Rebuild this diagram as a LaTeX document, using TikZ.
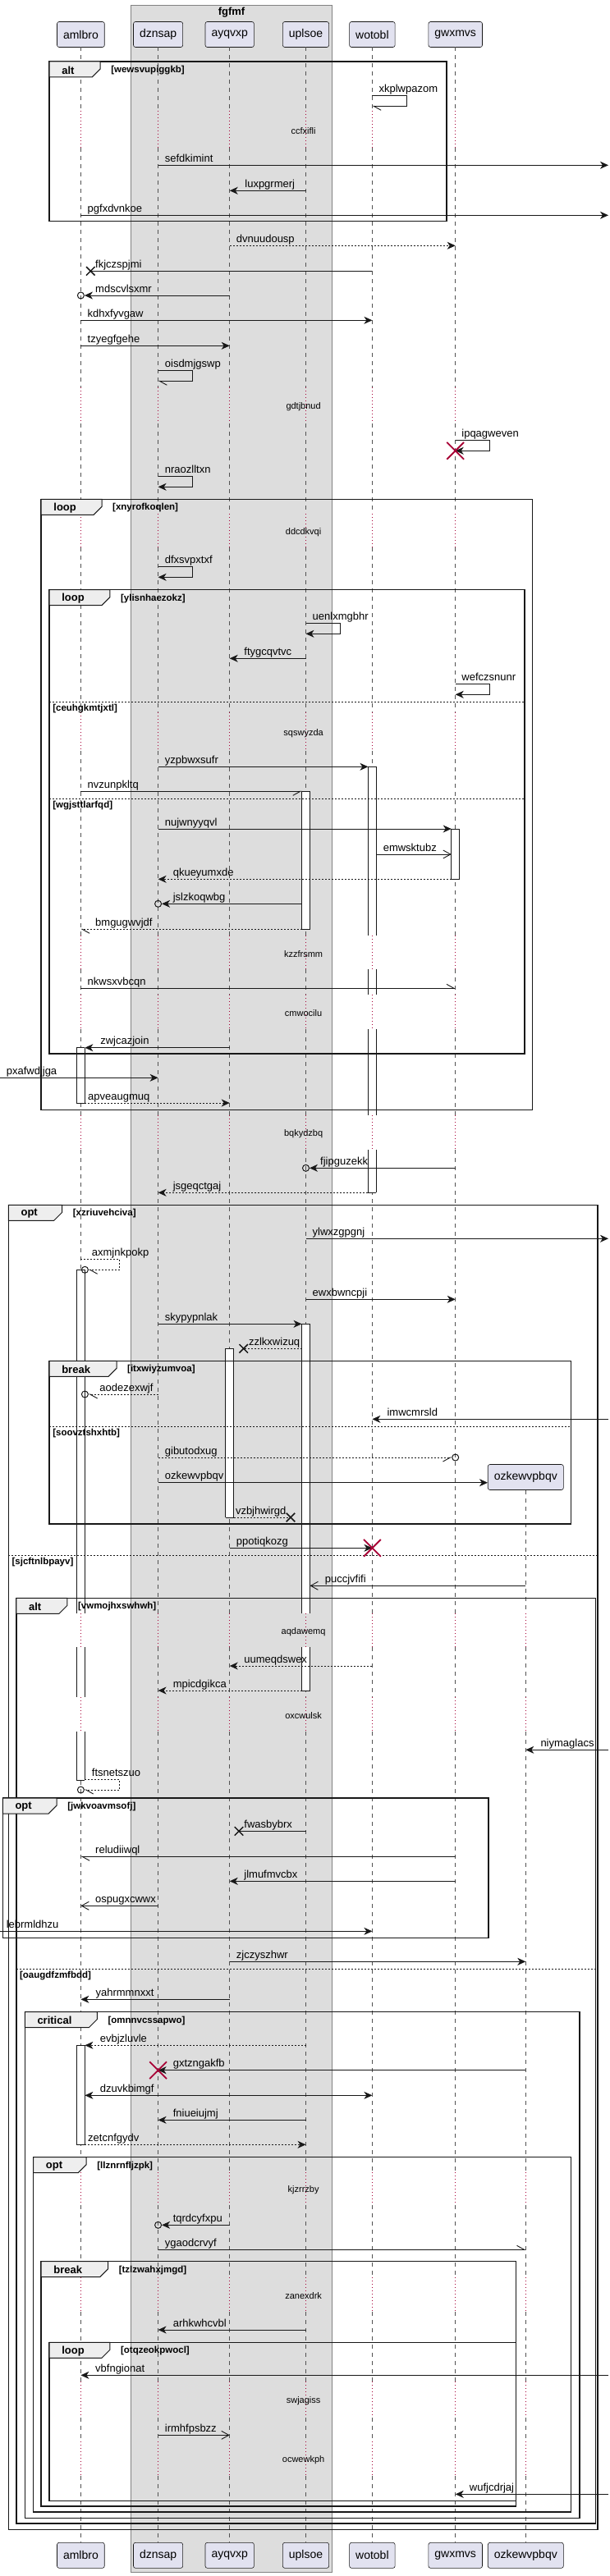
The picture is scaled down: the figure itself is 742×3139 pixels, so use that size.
\documentclass[tikz,border=0pt]{standalone}
\usepackage{fontspec}
\setmainfont{Liberation Sans}
\usepackage{tikz}
\usetikzlibrary{arrows.meta,shapes.misc}
\definecolor{umlline}{RGB}{24,24,24}
\definecolor{umlpart}{RGB}{226,226,240}
\definecolor{umlbox}{RGB}{221,221,221}
\definecolor{boxgray}{RGB}{130,130,130}
\definecolor{umlred}{RGB}{168,0,54}
\definecolor{umltab}{RGB}{238,238,238}
\tikzset{
  part/.style={rectangle, rounded corners=2.5pt, draw=umlline, line width=0.6pt,
               fill=umlpart, font=\fontsize{14}{16}\selectfont,
               minimum height=31pt, inner xsep=7.5pt},
  lifeline/.style={draw=umlline!75, line width=0.6pt, dash pattern=on 5pt off 5pt},
  delayline/.style={draw=umlred, line width=0.8pt, dash pattern=on 1pt off 3pt},
  msg/.style={draw=umlline, line width=0.9pt},
  ret/.style={msg, dash pattern=on 2pt off 2pt},
  tipfill/.style={-{Stealth[length=10pt,width=9pt,inset=3pt]}},
  tipopen/.style={-{Straight Barb[length=9pt,width=10pt]}},
  barbleft/.style={-{Straight Barb[length=9pt,width=10pt,left]}},
  barbright/.style={-{Straight Barb[length=9pt,width=10pt,right]}},
  msglbl/.style={anchor=base west, inner sep=0pt, font=\fontsize{13}{15}\selectfont},
  dlylbl/.style={inner sep=0pt, font=\fontsize{11}{13}\selectfont},
  grpframe/.style={draw=umlline, line width=1.5pt},
  grptab/.style={draw=umlline, line width=1pt, fill=umltab},
  grplbl/.style={anchor=west, inner sep=0pt, font=\fontsize{13}{15}\selectfont\bfseries},
  cndlbl/.style={anchor=west, inner sep=0pt, font=\fontsize{11.5}{13}\selectfont\bfseries},
  elseline/.style={draw=umlline, line width=0.9pt, dash pattern=on 2pt off 2pt},
  actside/.style={draw=umlline, line width=0.9pt},
  xmark/.style={cross out, draw=umlline, line width=1.5pt, minimum size=9pt, inner sep=0pt},
  killmark/.style={cross out, draw=umlred, line width=1.8pt, minimum size=19pt, inner sep=0pt},
  endcirc/.style={circle, draw=umlline, line width=1pt, minimum size=8pt, inner sep=0pt},
}
\begin{document}
\begin{tikzpicture}[x=1pt, y=-1pt]
  \fill[white] (0,0) rectangle (742,3139);
  \useasboundingbox (0,0) rectangle (742,3139);
  \coordinate (leftedge) at (0,0);
  \coordinate (rightedge) at (741,0);

  % box fgfmf
  \draw[draw=boxgray, fill=umlbox, line width=0.8pt] (159.5,6) rectangle (404.6,3134);
  \node[font=\fontsize{13}{15}\selectfont\bfseries, inner sep=0pt] (fgfmf) at (282,15) {fgfmf};

  % participants (top)
  \node[part] (amlbro) at (98.4,42) {amlbro};
  \node[part] (dznsap) at (192.6,42) {dznsap};
  \node[part] (ayqvxp) at (279.7,42) {ayqvxp};
  \node[part] (uplsoe) at (372.5,42) {uplsoe};
  \node[part] (wotobl) at (453.4,42) {wotobl};
  \node[part] (gwxmvs) at (554.7,42) {gwxmvs};
  \node[part] (ozkewvpbqv) at (640.3,1800) {ozkewvpbqv};

  % lifelines
  \foreach \ya/\yb in {57.3/135, 180/472, 516/626, 667/868, 915/1140, 1181/1212,
      1254/1359, 1401/1966, 2007/2068, 2110/2647, 2687/2775, 2817/2902,
      2946/2975, 3017/3098.3}
    \foreach \lx in {amlbro,dznsap,ayqvxp,uplsoe,wotobl,gwxmvs}
      \draw[lifeline] (\lx |- 0,\ya) -- (\lx |- 0,\yb);
  \foreach \ya/\yb in {1815.7/1966, 2007/2068, 2110/2647, 2687/2775, 2817/2902,
      2946/2975, 3017/3098.3}
    \draw[lifeline] (ozkewvpbqv |- 0,\ya) -- (ozkewvpbqv |- 0,\yb);

  % delays
  \foreach \n/\ya/\yb/\txt in {1/135/180/ccfxifli, 2/472/516/gdtjbnud,
      3/626/667/ddcdkvqi, 4/868/915/sqswyzda, 5/1140/1181/kzzfrsmm,
      6/1212/1254/cmwocilu, 7/1359/1401/bqkydzbq, 8/1966/2007/aqdawemq,
      9/2068/2110/oxcwulsk, 10/2647/2687/kjzrrzby, 11/2775/2817/zanexdrk,
      12/2902/2946/swjagiss, 13/2975/3017/ocwewkph} {
    \foreach \lx in {amlbro,dznsap,ayqvxp,uplsoe,wotobl,gwxmvs}
      \draw[delayline] (\lx |- 0,\ya) -- (\lx |- 0,\yb);
    \node[dlylbl] (dly\n) at (369.6,\ya/2+\yb/2+2) {\txt};
  }
  \foreach \ya/\yb in {1966/2007, 2068/2110, 2647/2687, 2775/2817, 2902/2946, 2975/3017}
    \draw[delayline] (ozkewvpbqv |- 0,\ya) -- (ozkewvpbqv |- 0,\yb);

  % activations
  \foreach \lx/\ya/\yb in {wotobl/934.3/1140, wotobl/1181/1212, wotobl/1254/1359,
      wotobl/1401/1453.3, uplsoe/964.3/1132.3, gwxmvs/1010/1071.3,
      amlbro/1276.7/1344, amlbro/1547.3/1966, amlbro/2007/2068, amlbro/2110/2169.3,
      uplsoe/1613.3/1966, uplsoe/2007/2060, ayqvxp/1643.3/1849,
      amlbro/2492.3/2613.3} {
    \fill[white] ([xshift=-5pt]\lx |- 0,\ya) rectangle ([xshift=5pt]\lx |- 0,\yb);
    \draw[actside] ([xshift=-5pt]\lx |- 0,\ya) -- ([xshift=-5pt]\lx |- 0,\yb)
                   ([xshift=5pt]\lx |- 0,\ya) -- ([xshift=5pt]\lx |- 0,\yb);
  }
  \foreach \lx/\yy in {wotobl/934.3, wotobl/1453.3, uplsoe/964.3, uplsoe/1132.3,
      gwxmvs/1010, gwxmvs/1071.3, amlbro/1276.7, amlbro/1344, amlbro/1547.3,
      amlbro/2169.3, uplsoe/1613.3, uplsoe/2060, ayqvxp/1643.3, ayqvxp/1849,
      amlbro/2492.3, amlbro/2613.3}
    \draw[actside] ([xshift=-5pt]\lx |- 0,\yy) -- ([xshift=5pt]\lx |- 0,\yy);

  % groups
  \foreach \n/\xa/\ya/\xb/\yb/\tr/\kw/\cd in {
      1/60.1/75/544.2/269.3/122.1/alt/wewsvupiggkb,
      2/50.2/608.3/648.4/1352.3/124/loop/xnyrofkoqlen,
      3/60.1/718.7/638.9/1284/133.9/loop/ylisnhaezokz,
      4/10.4/1468.3/728/3082.3/75.7/opt/xzriuvehciva,
      5/60.1/1658.3/695.7/1857/142/break/itxwiyzumvoa,
      6/19.9/1947.3/725.5/3075/81.9/alt/vwmojhxswhwh,
      7/3.3/2191/594.9/2361.7/69.1/opt/jwkvoavmsofj,
      8/30.3/2451.7/706.1/3068.3/118.3/critical/omnnvcssapwo,
      9/40.7/2628.7/695.7/3061/105.1/opt/llznrnfljzpk,
      10/50.2/2755.7/628.5/3054/131.6/break/tzlzwahxjmgd,
      11/60.1/2854.3/628.5/3047.3/133.9/loop/otqzeokpwocl} {
    \draw[grpframe] (\xa,\ya) rectangle (\xb,\yb);
    \draw[grptab] (\xa,\ya) -- (\tr,\ya) -- (\tr,\ya+9) -- (\tr-10,\ya+19) -- (\xa,\ya+19) -- cycle;
    \node[grplbl] (kw\n) at (\xa+15,\ya+10.5) {\kw};
    \node[cndlbl] (cd\n) at (\tr+13,\ya+10.5) {[\cd]};
  }
  \foreach \n/\xa/\xb/\yy/\cd in {1/60.1/638.9/855.3/ceuhgkmtjxtl,
      2/60.1/638.9/973/wgjsttlarfqd, 3/60.1/695.7/1738.3/soovztshxhtb,
      4/10.4/728/1895.3/sjcftnlbpayv, 5/19.9/725.5/2399.3/oaugdfzmfbdd} {
    \draw[elseline] (\xa,\yy) -- (\xb,\yy);
    \node[cndlbl] (el\n) at (\xa+4,\yy+8.5) {[\cd]};
  }

  % messages
  \draw[msg, barbleft] (wotobl |- 0,116.7) -- ++(42,0) |- (wotobl |- 0,129.3);
  \node[msglbl] (t-xkplwpazom) at (461.4,112.7) {xkplwpazom};
  \draw[msg, tipfill] (dznsap |- 0,201.3) -- (rightedge |- 0,201.3);
  \node[msglbl] (t-sefdkimint) at (200.7,197.3) {sefdkimint};
  \draw[msg, tipfill] (uplsoe |- 0,232.3) -- (ayqvxp |- 0,232.3);
  \node[msglbl] (t-luxpgrmerj) at (298.2,228.3) {luxpgrmerj};
  \draw[msg, tipfill] (amlbro |- 0,262.3) -- (rightedge |- 0,262.3);
  \node[msglbl] (t-pgfxdvnkoe) at (106.5,258.3) {pgfxdvnkoe};
  \draw[ret, tipfill] (ayqvxp |- 0,299.3) -- (gwxmvs |- 0,299.3);
  \node[msglbl] (t-dvnuudousp) at (287.7,295.3) {dvnuudousp};
  \node[xmark] (x-fkjczspjmi) at (110.3,330.3) {};
  \draw[msg] (wotobl |- 0,330.3) -- (x-fkjczspjmi.center);
  \node[msglbl] (t-fkjczspjmi) at (116,326.3) {fkjczspjmi};
  \node[endcirc] (c-mdscvlsxmr) at (amlbro |- 0,360) {};
  \draw[msg, tipfill] (ayqvxp |- 0,360) -- (c-mdscvlsxmr.east);
  \node[msglbl] (t-mdscvlsxmr) at (116,356) {mdscvlsxmr};
  \draw[msg, tipfill] (amlbro |- 0,390.3) -- (wotobl |- 0,390.3);
  \node[msglbl] (t-kdhxfyvgaw) at (106.5,386.3) {kdhxfyvgaw};
  \draw[msg, tipfill] (amlbro |- 0,421.3) -- (ayqvxp |- 0,421.3);
  \node[msglbl] (t-tzyegfgehe) at (106.5,417.3) {tzyegfgehe};
  \draw[msg, barbleft] (dznsap |- 0,451.3) -- ++(42,0) |- (dznsap |- 0,464.3);
  \node[msglbl] (t-oisdmjgswp) at (200.7,447.3) {oisdmjgswp};
  \draw[msg, tipfill] (gwxmvs |- 0,536.3) -- ++(42,0) |- (gwxmvs |- 0,549.3);
  \node[killmark] (k-gwxmvs) at (gwxmvs |- 0,549.3) {};
  \node[msglbl] (t-ipqagweven) at (562.2,532.3) {ipqagweven};
  \draw[msg, tipfill] (dznsap |- 0,580.3) -- ++(42,0) |- (dznsap |- 0,593.3);
  \node[msglbl] (t-nraozlltxn) at (200.7,576.3) {nraozlltxn};
  \draw[msg, tipfill] (dznsap |- 0,690.3) -- ++(42,0) |- (dznsap |- 0,703.3);
  \node[msglbl] (t-dfxsvpxtxf) at (200.7,686.3) {dfxsvpxtxf};
  \draw[msg, tipfill] (uplsoe |- 0,759.3) -- ++(42,0) |- (uplsoe |- 0,772.3);
  \node[msglbl] (t-uenlxmgbhr) at (380.5,755.3) {uenlxmgbhr};
  \draw[msg, tipfill] (uplsoe |- 0,802.3) -- (ayqvxp |- 0,802.3);
  \node[msglbl] (t-ftygcqvtvc) at (297.2,798.3) {ftygcqvtvc};
  \draw[msg, tipfill] (gwxmvs |- 0,833.3) -- ++(42,0) |- (gwxmvs |- 0,846.3);
  \node[msglbl] (t-wefczsnunr) at (562.2,829.3) {wefczsnunr};
  \draw[msg, tipfill] (dznsap |- 0,934.3) -- ([xshift=-5pt]wotobl |- 0,934.3);
  \node[msglbl] (t-yzpbwxsufr) at (200.7,930.3) {yzpbwxsufr};
  \draw[msg, barbright] (amlbro |- 0,964.3) -- ([xshift=-5pt]uplsoe |- 0,964.3);
  \node[msglbl] (t-nvzunpkltq) at (106.5,960.3) {nvzunpkltq};
  \draw[msg, tipfill] (dznsap |- 0,1010) -- ([xshift=-5pt]gwxmvs |- 0,1010);
  \node[msglbl] (t-nujwnyyqvl) at (200.7,1006) {nujwnyyqvl};
  \draw[msg, tipopen] ([xshift=5pt]wotobl |- 0,1041) -- ([xshift=-5pt]gwxmvs |- 0,1041);
  \node[msglbl] (t-emwsktubz) at (466.6,1037) {emwsktubz};
  \draw[ret, tipfill] ([xshift=-5pt]gwxmvs |- 0,1071.3) -- (dznsap |- 0,1071.3);
  \node[msglbl] (t-qkueyumxde) at (210.6,1067.3) {qkueyumxde};
  \node[endcirc] (c-jslzkoqwbg) at (dznsap |- 0,1101.3) {};
  \draw[msg, tipfill] ([xshift=-5pt]uplsoe |- 0,1101.3) -- (c-jslzkoqwbg.east);
  \node[msglbl] (t-jslzkoqwbg) at (210.6,1097.3) {jslzkoqwbg};
  \draw[ret, barbleft] ([xshift=-5pt]uplsoe |- 0,1132.3) -- (amlbro |- 0,1132.3);
  \node[msglbl] (t-bmgugwvjdf) at (116,1128.3) {bmgugwvjdf};
  \draw[msg, barbleft] (amlbro |- 0,1204.3) -- (gwxmvs |- 0,1204.3);
  \node[msglbl] (t-nkwsxvbcqn) at (106.5,1200.3) {nkwsxvbcqn};
  \draw[msg, tipfill] (ayqvxp |- 0,1276.7) -- ([xshift=5pt]amlbro |- 0,1276.7);
  \node[msglbl] (t-zwjcazjoin) at (122.1,1272.7) {zwjcazjoin};
  \draw[msg, tipfill] (leftedge |- 0,1313.3) -- (dznsap |- 0,1313.3);
  \node[msglbl] (t-pxafwdjjga) at (7.6,1309.3) {pxafwdjjga};
  \draw[ret, tipfill] ([xshift=5pt]amlbro |- 0,1344) -- (ayqvxp |- 0,1344);
  \node[msglbl] (t-apveaugmuq) at (107,1340) {apveaugmuq};
  \node[endcirc] (c-fjipguzekk) at (uplsoe |- 0,1423.3) {};
  \draw[msg, tipfill] (gwxmvs |- 0,1423.3) -- (c-fjipguzekk.east);
  \node[msglbl] (t-fjipguzekk) at (390,1419.3) {fjipguzekk};
  \draw[ret, tipfill] ([xshift=-5pt]wotobl |- 0,1453.3) -- (dznsap |- 0,1453.3);
  \node[msglbl] (t-jsgeqctgaj) at (210.6,1449.3) {jsgeqctgaj};
  \draw[msg, tipfill] (uplsoe |- 0,1509.3) -- (rightedge |- 0,1509.3);
  \node[msglbl] (t-ylwxzgpgnj) at (380.5,1505.3) {ylwxzgpgnj};
  \node[endcirc] (c-axmjnkpokp) at ([xshift=5pt]amlbro |- 0,1547.3) {};
  \draw[ret, barbleft] (amlbro |- 0,1534.3) -- (145.8,1534.3) |- (c-axmjnkpokp.east);
  \node[msglbl] (t-axmjnkpokp) at (111.7,1530.3) {axmjnkpokp};
  \draw[msg, tipfill] (uplsoe |- 0,1583.3) -- (gwxmvs |- 0,1583.3);
  \node[msglbl] (t-ewxbwncpji) at (380.5,1579.3) {ewxbwncpji};
  \draw[msg, tipfill] (dznsap |- 0,1613.3) -- ([xshift=-5pt]uplsoe |- 0,1613.3);
  \node[msglbl] (t-skypypnlak) at (200.7,1609.3) {skypypnlak};
  \node[xmark] (x-zzlkxwizuq) at (296.7,1643.3) {};
  \draw[ret] ([xshift=-5pt]uplsoe |- 0,1643.3) -- (x-zzlkxwizuq.center);
  \node[msglbl] (t-zzlkxwizuq) at (302.9,1639.3) {zzlkxwizuq};
  \node[endcirc] (c-aodezexwjf) at ([xshift=5pt]amlbro |- 0,1699) {};
  \draw[ret, barbleft] (dznsap |- 0,1699) -- (c-aodezexwjf.east);
  \node[msglbl] (t-aodezexwjf) at (121.2,1695) {aodezexwjf};
  \draw[msg, tipfill] (rightedge |- 0,1729.3) -- (wotobl |- 0,1729.3);
  \node[msglbl] (t-imwcmrsld) at (471.4,1725.3) {imwcmrsld};
  \node[endcirc] (c-gibutodxug) at (gwxmvs |- 0,1776) {};
  \draw[ret, barbright] (dznsap |- 0,1776) -- (c-gibutodxug.west);
  \node[msglbl] (t-gibutodxug) at (200.7,1772) {gibutodxug};
  \draw[msg, tipfill] (dznsap |- 0,1806.7) -- (ozkewvpbqv.west |- 0,1806.7);
  \node[msglbl] (t-ozkewvpbqv) at (200.7,1802.7) {ozkewvpbqv};
  \node[xmark] (x-vzbjhwirgd) at (354,1849) {};
  \draw[ret] ([xshift=5pt]ayqvxp |- 0,1849) -- (x-vzbjhwirgd.center);
  \node[msglbl] (t-vzbjhwirgd) at (286.8,1845) {vzbjhwirgd};
  \draw[msg, tipfill] (ayqvxp |- 0,1886.3) -- (wotobl |- 0,1886.3);
  \node[killmark] (k-wotobl) at (wotobl |- 0,1886.3) {};
  \node[msglbl] (t-ppotiqkozg) at (287.7,1882.3) {ppotiqkozg};
  \draw[msg, tipopen] (ozkewvpbqv |- 0,1932.3) -- ([xshift=5pt]uplsoe |- 0,1932.3);
  \node[msglbl] (t-puccjvfifi) at (395.6,1928.3) {puccjvfifi};
  \draw[ret, tipfill] (wotobl |- 0,2030) -- (ayqvxp |- 0,2030);
  \node[msglbl] (t-uumeqdswex) at (297.2,2026) {uumeqdswex};
  \draw[ret, tipfill] ([xshift=-5pt]uplsoe |- 0,2060) -- (dznsap |- 0,2060);
  \node[msglbl] (t-mpicdgikca) at (210.6,2056) {mpicdgikca};
  \draw[msg, tipfill] (rightedge |- 0,2132.3) -- (ozkewvpbqv |- 0,2132.3);
  \node[msglbl] (t-niymaglacs) at (658.3,2128.3) {niymaglacs};
  \node[endcirc] (c-ftsnetszuo) at (amlbro |- 0,2181) {};
  \draw[ret, barbleft] ([xshift=5pt]amlbro |- 0,2168.3) -- (145.8,2168.3) |- (c-ftsnetszuo.east);
  \node[msglbl] (t-ftsnetszuo) at (111.7,2164.3) {ftsnetszuo};
  \node[xmark] (x-fwasbybrx) at (291,2231.3) {};
  \draw[msg] (uplsoe |- 0,2231.3) -- (x-fwasbybrx.center);
  \node[msglbl] (t-fwasbybrx) at (297.2,2227.3) {fwasbybrx};
  \draw[msg, barbleft] (gwxmvs |- 0,2262.3) -- (amlbro |- 0,2262.3);
  \node[msglbl] (t-reludiiwql) at (116,2258.3) {reludiiwql};
  \draw[msg, tipfill] (gwxmvs |- 0,2292.3) -- (ayqvxp |- 0,2292.3);
  \node[msglbl] (t-jlmufmvcbx) at (297.2,2288.3) {jlmufmvcbx};
  \draw[msg, tipopen] (dznsap |- 0,2322.3) -- (amlbro |- 0,2322.3);
  \node[msglbl] (t-ospugxcwwx) at (116,2318.3) {ospugxcwwx};
  \draw[msg, tipfill] (leftedge |- 0,2353.3) -- (wotobl |- 0,2353.3);
  \node[msglbl] (t-lebrmldhzu) at (7.6,2349.3) {lebrmldhzu};
  \draw[msg, tipfill] (ayqvxp |- 0,2390.3) -- (ozkewvpbqv |- 0,2390.3);
  \node[msglbl] (t-zjczyszhwr) at (287.7,2386.3) {zjczyszhwr};
  \draw[msg, tipfill] (ayqvxp |- 0,2436.3) -- (amlbro |- 0,2436.3);
  \node[msglbl] (t-yahrmmnxxt) at (116.4,2432.3) {yahrmmnxxt};
  \draw[ret, tipfill] (uplsoe |- 0,2492.3) -- ([xshift=5pt]amlbro |- 0,2492.3);
  \node[msglbl] (t-evbjzluvle) at (121.6,2488.3) {evbjzluvle};
  \draw[msg, tipfill] (ozkewvpbqv |- 0,2522.7) -- (dznsap |- 0,2522.7);
  \node[killmark] (k-dznsap) at (dznsap |- 0,2522.7) {};
  \node[msglbl] (t-gxtzngakfb) at (210.6,2518.7) {gxtzngakfb};
  \draw[msg, {Stealth[length=10pt,width=9pt,inset=3pt]}-{Stealth[length=10pt,width=9pt,inset=3pt]}]
       ([xshift=5pt]amlbro |- 0,2553.3) -- (wotobl |- 0,2553.3);
  \node[msglbl] (t-dzuvkbimgf) at (121.6,2549.3) {dzuvkbimgf};
  \draw[msg, tipfill] (uplsoe |- 0,2583.3) -- (dznsap |- 0,2583.3);
  \node[msglbl] (t-fniueiujmj) at (210.6,2579.3) {fniueiujmj};
  \draw[ret, tipfill] ([xshift=5pt]amlbro |- 0,2613.3) -- (uplsoe |- 0,2613.3);
  \node[msglbl] (t-zetcnfgydv) at (107,2609.3) {zetcnfgydv};
  \node[endcirc] (c-tqrdcyfxpu) at (dznsap |- 0,2711.3) {};
  \draw[msg, tipfill] (ayqvxp |- 0,2711.3) -- (c-tqrdcyfxpu.east);
  \node[msglbl] (t-tqrdcyfxpu) at (210.6,2707.3) {tqrdcyfxpu};
  \draw[msg, barbleft] (dznsap |- 0,2741.3) -- (ozkewvpbqv |- 0,2741.3);
  \node[msglbl] (t-ygaodcrvyf) at (200.7,2737.3) {ygaodcrvyf};
  \draw[msg, tipfill] (uplsoe |- 0,2839) -- (dznsap |- 0,2839);
  \node[msglbl] (t-arhkwhcvbl) at (210.6,2835) {arhkwhcvbl};
  \draw[msg, tipfill] (rightedge |- 0,2894.3) -- (amlbro |- 0,2894.3);
  \node[msglbl] (t-vbfngionat) at (116,2890.3) {vbfngionat};
  \draw[msg, tipopen] (dznsap |- 0,2967.3) -- (ayqvxp |- 0,2967.3);
  \node[msglbl] (t-irmhfpsbzz) at (200.7,2963.3) {irmhfpsbzz};
  \draw[msg, tipfill] (rightedge |- 0,3039.3) -- (gwxmvs |- 0,3039.3);
  \node[msglbl] (t-wufjcdrjaj) at (571.7,3035.3) {wufjcdrjaj};

  % participants (bottom)
  \foreach \p in {amlbro,dznsap,ayqvxp,uplsoe,wotobl,gwxmvs,ozkewvpbqv}
    \node[part] (\p-b) at (\p |- 0,3113.8) {\p};
\end{tikzpicture}
\end{document}
